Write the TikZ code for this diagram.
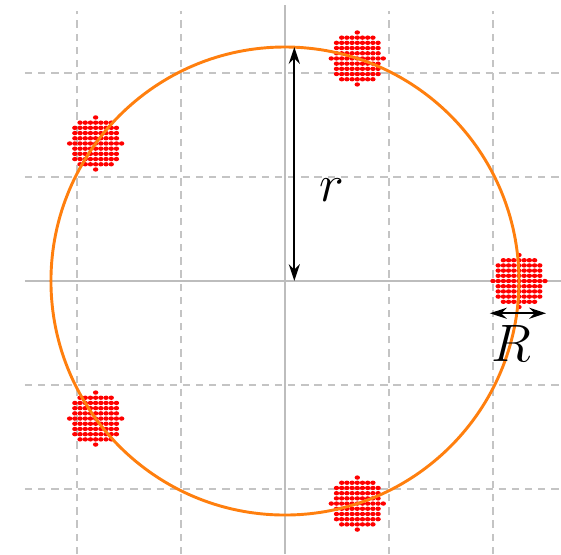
\documentclass[tikz,border=0pt]{standalone}
\usepackage{xcolor}
\usepackage{tikz}
\usetikzlibrary{arrows.meta}
\definecolor{cRing}{HTML}{FF7F0E}
\definecolor{cDot}{HTML}{FF0000}
\definecolor{cGrid}{HTML}{C4C4C4}
\definecolor{cAxis}{HTML}{BDBDBD}
\tikzset{
  gridln/.style = {draw=cGrid, line width=0.4pt, dash pattern=on 2pt off 1.6pt},
  axisln/.style = {draw=cAxis, line width=0.35pt},
  ring/.style   = {draw=cRing, line width=0.8pt},
  dot/.style    = {fill=cDot},
  dim/.style    = {{Stealth[length=4.6pt,width=3pt]}-{Stealth[length=4.6pt,width=3pt]},
                   line width=0.6pt},
  lbl/.style    = {font=\fontsize{13.5}{15}\selectfont, inner sep=1pt},
}
\begin{document}
\begin{tikzpicture}
  \useasboundingbox (-2.74,-2.625) rectangle (2.654,2.702);
  % grid
  \foreach \k in {-2,-1,1,2}{
    \draw[gridln] (\k,-2.625) -- (\k,2.6);
    \draw[gridln] (-2.5,\k) -- (2.654,\k);
  }
  \draw[axisln] (0,-2.625) -- (0,2.65);
  \draw[axisln] (-2.5,0) -- (2.654,0);

  \coordinate (c) at (0,0);
  \coordinate (rtop) at (90:2.25);
  \foreach \a [count=\n from 0] in {0,72,...,288}
    \coordinate (b\n) at (\a:2.25);

  % clusters of points
  \foreach \n in {0,...,4}{
    \foreach \i in {-5,...,5}{
      \foreach \j in {-5,...,5}{
        \pgfmathtruncatemacro{\d}{\i*\i+\j*\j}
        \ifnum\d<26
          \fill[dot, shift={(b\n)}] (\i*0.05,\j*0.05) ellipse (0.026 and 0.021);
        \fi
      }}}

  \draw[ring] (c) circle (2.25);

  \draw[dim] ([xshift=0.09cm]c) -- ([xshift=0.09cm]rtop);
  \node[lbl] (rl) at (0.45,0.875) {$r$};
  \draw[dim] ([shift={(-0.28,-0.31)}]b0) -- ([shift={(0.26,-0.31)}]b0);
  \node[lbl] (Rl) at (2.18,-0.6) {$R$};
\end{tikzpicture}
\end{document}
